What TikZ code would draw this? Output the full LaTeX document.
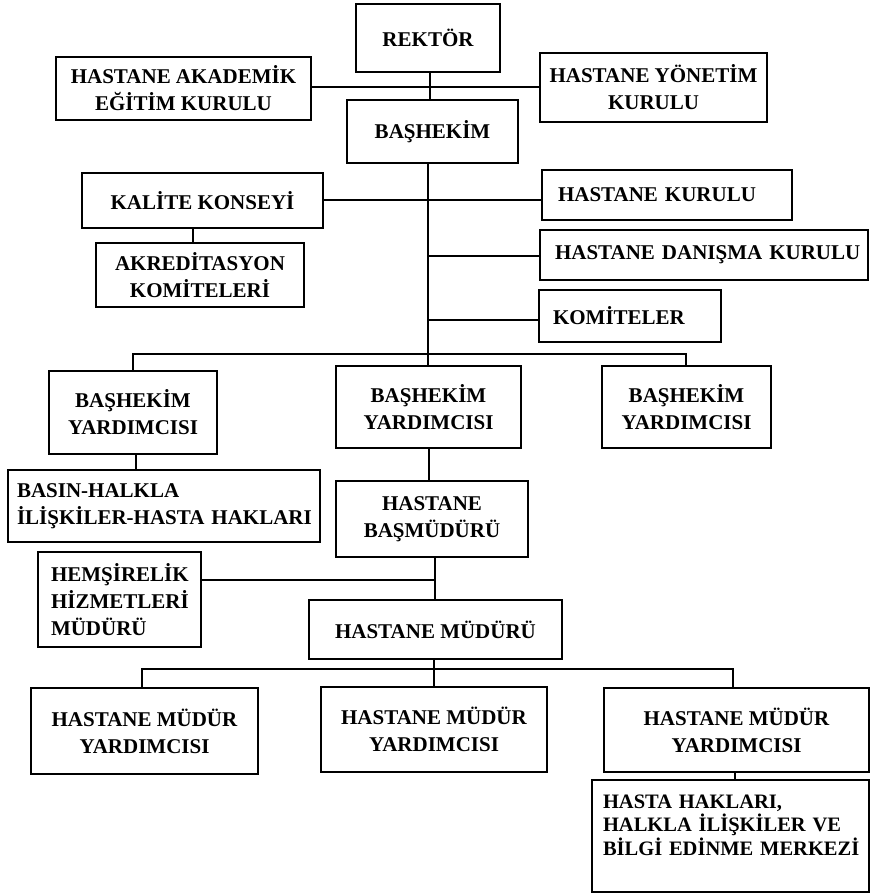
\documentclass[tikz,border=0pt]{standalone}
\usepackage{fontspec}
\setmainfont{Liberation Serif}
% #1 extra options, #2 name, #3 left, #4 top, #5 right, #6 bottom, #7 text
\newcommand\chartbox[7][]{%
  \node[box,minimum width={(#5)-(#3)},minimum height={(#6)-(#4)},#1]
    (#2) at ({((#3)+(#5))/2},{((#4)+(#6))/2}) {#7};}
\begin{document}
\hyphenpenalty=10000
\exhyphenpenalty=10000
\begin{tikzpicture}[x=1pt,y=-1pt,
  box/.style={draw,line width=2.2pt,inner sep=0pt,align=center,
    font=\fontsize{21}{27}\selectfont\bfseries},
  leftbox/.style={align=left,text width=#1},
  link/.style={line width=1.7pt}]
\useasboundingbox (0,0) rectangle (871,895);

% boxes
\chartbox{rektor}{356}{4}{500}{72}{REKTÖR}
\chartbox{akademik}{56}{57}{311}{120}{HASTANE AKADEMİK\\EĞİTİM KURULU}
\chartbox{yonetim}{540}{53}{767}{122}{HASTANE YÖNETİM\\KURULU}
\chartbox{bashekim}{347}{100}{518}{163}{BAŞHEKİM}
\chartbox{kalite}{82}{173}{323}{228}{KALİTE KONSEYİ}
\chartbox[leftbox=218pt]{hkurulu}{542}{170}{792}{220}{HASTANE~KURULU}
\chartbox{akred}{96}{243}{304}{307}{AKREDİTASYON\\KOMİTELERİ}
\chartbox[leftbox=298pt]{danisma}{540}{230}{868}{280}{HASTANE~DANIŞMA~KURULU}
\chartbox[leftbox=154pt]{komiteler}{539}{290}{721}{342}{KOMİTELER}
\chartbox{yard1}{49}{371}{217}{454}{BAŞHEKİM\\YARDIMCISI}
\chartbox{yard2}{336}{366}{521}{448}{BAŞHEKİM\\YARDIMCISI}
\chartbox{yard3}{602}{366}{771}{448}{BAŞHEKİM\\YARDIMCISI}
\chartbox[leftbox=294pt]{basin}{8}{470}{320}{542}{BASIN-HALKLA\\İLİŞKİLER-HASTA~HAKLARI}
\chartbox{basmudur}{336}{481}{528}{557}{HASTANE\\BAŞMÜDÜRÜ}
\chartbox[leftbox=137pt]{hemsire}{38}{552}{201}{647}{HEMŞİRELİK\\HİZMETLERİ\\MÜDÜRÜ}
\chartbox{mudur}{309}{600}{562}{659}{HASTANE MÜDÜRÜ}
\chartbox{myard1}{31}{688}{258}{774}{HASTANE MÜDÜR\\YARDIMCISI}
\chartbox{myard2}{321}{687}{547}{772}{HASTANE MÜDÜR\\YARDIMCISI}
\chartbox{myard3}{604}{688}{869}{772}{HASTANE MÜDÜR\\YARDIMCISI}
\chartbox[leftbox=255pt,text depth=69pt,
  font=\fontsize{20.5}{23.5}\selectfont\bfseries]{hakmerkez}{592}{780}{869}{892}%
  {HASTA~HAKLARI,\\HALKLA~İLİŞKİLER~VE\\BİLGİ~EDİNME~MERKEZİ}

% junction points
\coordinate (j1) at (430,87);
\coordinate (trunk) at (428,200);
\coordinate (ka) at (193,0);
\coordinate (b1) at (136,0);
\coordinate (b2) at (429,0);
\coordinate (dq) at (428,256);
\coordinate (kmq) at (428,320);
\coordinate (busL) at (133,354);
\coordinate (busR) at (686,354);
\coordinate (mt) at (435,580);
\coordinate (mbusL) at (142,669);
\coordinate (mbusM) at (434,669);
\coordinate (mbusR) at (733,669);
\coordinate (hm) at (735,0);

% connectors
\draw[link] (rektor.south -| j1) -- (bashekim.north -| j1);
\draw[link] (akademik.east |- j1) -- (yonetim.west |- j1);
\draw[link] (bashekim.south -| trunk) -- (yard2.north -| trunk);
\draw[link] (kalite.east |- trunk) -- (hkurulu.west |- trunk);
\draw[link] (kalite.south -| ka) -- (akred.north -| ka);
\draw[link] (dq) -- (danisma.west |- dq);
\draw[link] (kmq) -- (komiteler.west |- kmq);
\draw[link] (yard1.north -| busL) |- (busR) -- (yard3.north -| busR);
\draw[link] (yard1.south -| b1) -- (basin.north -| b1);
\draw[link] (yard2.south -| b2) -- (basmudur.north -| b2);
\draw[link] (basmudur.south -| mt) -- (mudur.north -| mt);
\draw[link] (hemsire.east |- mt) -- (mt);
\draw[link] (mudur.south -| mbusM) -- (myard2.north -| mbusM);
\draw[link] (myard1.north -| mbusL) |- (mbusR) -- (myard3.north -| mbusR);
\draw[link] (myard3.south -| hm) -- (hakmerkez.north -| hm);
\end{tikzpicture}
\end{document}
